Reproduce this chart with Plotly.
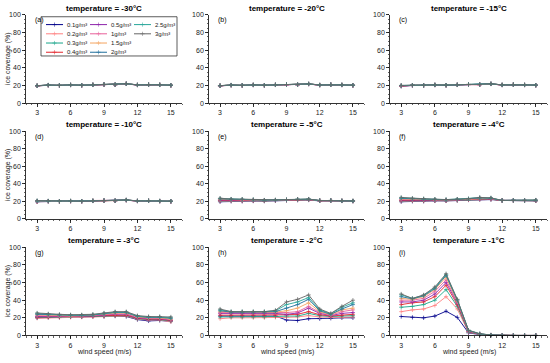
import plotly.graph_objects as go

# ---------------- data ----------------
wind_speed = [3, 4, 5, 6, 7, 8, 9, 10, 11, 12, 13, 14, 15]
concentrations = ["0.1", "0.2", "0.3", "0.4", "0.5", "1", "1.5", "2", "2.5", "3"]
series_colors = ["#00008B", "#FF7F7F", "#17A589", "#E3242B", "#8E24AA",
                 "#E8609A", "#F4A460", "#1F6E9C", "#26A69A", "#666666"]
temperatures = ["-30", "-20", "-15", "-10", "-5", "-4", "-3", "-2", "-1"]
panel_tags = ["(a)", "(b)", "(c)", "(d)", "(e)", "(f)", "(g)", "(h)", "(i)"]

# rows: one per concentration (0.1 ... 3 g/m3), columns: wind speed 3..15 m/s
cov_m30 = [
    [19.4, 20.2, 19.9, 20.4, 20.0, 20.5, 20.9, 20.7, 21.7, 20.4, 20.7, 20.5, 20.0],
    [19.5, 20.2, 19.9, 20.4, 20.0, 20.5, 20.9, 20.7, 21.7, 20.4, 20.7, 20.5, 20.0],
    [19.5, 20.3, 20.0, 20.5, 20.1, 20.6, 21.0, 20.8, 21.8, 20.5, 20.8, 20.6, 20.1],
    [19.5, 20.3, 20.0, 20.5, 20.1, 20.6, 21.0, 20.8, 21.8, 20.5, 20.8, 20.6, 20.1],
    [19.6, 20.3, 20.0, 20.5, 20.1, 20.6, 21.0, 20.8, 21.8, 20.5, 20.8, 20.6, 20.1],
    [19.6, 20.3, 20.0, 20.5, 20.1, 20.6, 21.0, 20.8, 21.8, 20.5, 20.8, 20.6, 20.1],
    [19.6, 20.4, 20.1, 20.6, 20.2, 20.7, 21.1, 20.9, 21.9, 20.6, 20.9, 20.7, 20.2],
    [19.6, 20.4, 20.1, 20.6, 20.2, 20.7, 21.1, 20.9, 21.9, 20.6, 20.9, 20.7, 20.2],
    [19.7, 20.4, 20.1, 20.6, 20.2, 20.7, 21.1, 20.9, 21.9, 20.6, 20.9, 20.7, 20.2],
    [19.7, 20.4, 20.1, 20.6, 20.2, 20.7, 21.1, 20.9, 21.9, 20.6, 20.9, 20.7, 20.2],
]
cov_m20 = [
    [19.5, 20.2, 19.9, 20.4, 20.0, 20.5, 20.8, 20.7, 21.5, 20.3, 20.7, 20.4, 20.0],
    [19.5, 20.2, 19.9, 20.4, 20.0, 20.5, 20.8, 20.7, 21.5, 20.3, 20.7, 20.4, 20.0],
    [19.6, 20.3, 20.0, 20.5, 20.1, 20.6, 20.9, 20.8, 21.6, 20.4, 20.8, 20.5, 20.1],
    [19.6, 20.3, 20.0, 20.5, 20.1, 20.6, 20.9, 20.8, 21.6, 20.4, 20.8, 20.5, 20.1],
    [19.6, 20.3, 20.0, 20.5, 20.1, 20.6, 20.9, 20.8, 21.6, 20.4, 20.8, 20.5, 20.1],
    [19.6, 20.3, 20.0, 20.5, 20.1, 20.6, 20.9, 20.8, 21.6, 20.4, 20.8, 20.5, 20.1],
    [19.7, 20.4, 20.1, 20.6, 20.2, 20.7, 21.0, 20.9, 21.7, 20.5, 20.9, 20.6, 20.2],
    [19.7, 20.4, 20.1, 20.6, 20.2, 20.7, 21.0, 20.9, 21.7, 20.5, 20.9, 20.6, 20.2],
    [19.7, 20.4, 20.1, 20.6, 20.2, 20.7, 21.0, 20.9, 21.7, 20.5, 20.9, 20.6, 20.2],
    [19.7, 20.4, 20.1, 20.6, 20.2, 20.7, 21.0, 20.9, 21.7, 20.5, 20.9, 20.6, 20.2],
]
cov_m15 = [
    [19.0, 20.0, 19.9, 20.4, 20.1, 20.5, 20.9, 20.8, 21.6, 20.4, 20.7, 20.4, 20.1],
    [19.2, 20.1, 20.0, 20.4, 20.1, 20.5, 20.9, 20.8, 21.6, 20.4, 20.7, 20.4, 20.1],
    [19.3, 20.1, 20.0, 20.5, 20.2, 20.6, 21.0, 20.9, 21.7, 20.5, 20.8, 20.5, 20.2],
    [19.4, 20.2, 20.1, 20.5, 20.2, 20.6, 21.0, 20.9, 21.7, 20.5, 20.8, 20.5, 20.2],
    [19.5, 20.2, 20.1, 20.5, 20.2, 20.6, 21.0, 20.9, 21.7, 20.5, 20.8, 20.5, 20.2],
    [19.6, 20.2, 20.1, 20.5, 20.2, 20.6, 21.0, 20.9, 21.7, 20.5, 20.8, 20.5, 20.2],
    [19.7, 20.3, 20.1, 20.6, 20.3, 20.7, 21.1, 21.0, 21.8, 20.6, 20.9, 20.6, 20.3],
    [19.8, 20.3, 20.1, 20.6, 20.3, 20.7, 21.1, 21.0, 21.8, 20.6, 20.9, 20.6, 20.3],
    [19.9, 20.3, 20.1, 20.6, 20.3, 20.7, 21.1, 21.0, 21.8, 20.6, 20.9, 20.6, 20.3],
    [20.0, 20.3, 20.1, 20.6, 20.3, 20.7, 21.1, 21.0, 21.8, 20.6, 20.9, 20.6, 20.3],
]
cov_m10 = [
    [19.5, 20.0, 19.9, 20.2, 20.0, 20.4, 20.7, 20.6, 21.3, 20.3, 20.5, 20.2, 19.9],
    [19.6, 20.1, 19.9, 20.2, 20.0, 20.4, 20.7, 20.6, 21.3, 20.3, 20.5, 20.2, 19.9],
    [19.7, 20.1, 20.0, 20.3, 20.1, 20.5, 20.8, 20.7, 21.4, 20.4, 20.6, 20.3, 20.0],
    [19.8, 20.2, 20.0, 20.3, 20.1, 20.5, 20.8, 20.7, 21.4, 20.4, 20.6, 20.3, 20.0],
    [19.9, 20.2, 20.0, 20.3, 20.1, 20.5, 20.8, 20.7, 21.5, 20.4, 20.6, 20.3, 20.0],
    [20.0, 20.2, 20.0, 20.3, 20.1, 20.5, 20.8, 20.7, 21.5, 20.4, 20.6, 20.3, 20.0],
    [20.2, 20.3, 20.1, 20.4, 20.2, 20.6, 20.9, 20.8, 21.5, 20.5, 20.7, 20.4, 20.1],
    [20.4, 20.3, 20.1, 20.4, 20.2, 20.6, 20.9, 20.8, 21.5, 20.5, 20.7, 20.4, 20.1],
    [20.6, 20.4, 20.1, 20.4, 20.2, 20.6, 20.9, 20.8, 21.6, 20.5, 20.7, 20.4, 20.1],
    [20.8, 20.4, 20.1, 20.4, 20.2, 20.6, 20.9, 20.8, 21.6, 20.5, 20.7, 20.4, 20.1],
]
cov_m5 = [
    [19.5, 20.0, 20.0, 20.3, 20.2, 20.8, 21.0, 21.3, 21.5, 20.5, 20.8, 20.4, 20.2],
    [20.0, 20.4, 20.3, 20.5, 20.4, 21.0, 21.2, 21.5, 21.7, 20.6, 20.8, 20.4, 20.2],
    [20.5, 20.8, 20.7, 20.8, 20.6, 21.1, 21.3, 21.7, 21.9, 20.6, 20.8, 20.5, 20.3],
    [21.0, 21.2, 21.0, 21.0, 20.8, 21.2, 21.4, 21.8, 22.0, 20.7, 20.9, 20.5, 20.3],
    [21.5, 21.5, 21.3, 21.2, 21.0, 21.3, 21.5, 22.0, 22.1, 20.7, 20.9, 20.5, 20.3],
    [22.0, 21.8, 21.6, 21.4, 21.1, 21.4, 21.6, 22.1, 22.2, 20.8, 20.9, 20.5, 20.4],
    [22.4, 22.0, 21.9, 21.6, 21.2, 21.5, 21.7, 22.2, 22.3, 20.8, 21.0, 20.6, 20.4],
    [22.8, 22.2, 22.1, 21.8, 21.3, 21.5, 21.8, 22.3, 22.4, 20.9, 21.0, 20.6, 20.4],
    [23.2, 22.4, 22.3, 21.9, 21.4, 21.6, 21.9, 22.4, 22.5, 20.9, 21.0, 20.6, 20.5],
    [23.6, 22.6, 22.5, 22.0, 21.5, 21.6, 22.0, 22.5, 22.6, 21.0, 21.0, 20.6, 20.5],
]
cov_m4 = [
    [19.5, 20.0, 20.0, 20.5, 20.5, 21.0, 21.5, 22.0, 22.0, 21.0, 21.0, 21.0, 20.5],
    [20.0, 20.4, 20.3, 20.7, 20.6, 21.1, 21.7, 22.2, 22.2, 21.0, 21.0, 21.0, 20.6],
    [20.5, 20.8, 20.6, 20.9, 20.8, 21.2, 21.8, 22.4, 22.4, 21.0, 21.0, 21.0, 20.7],
    [21.0, 21.2, 21.0, 21.1, 21.0, 21.4, 22.0, 22.7, 22.6, 21.0, 21.1, 21.0, 20.8],
    [21.6, 21.6, 21.4, 21.3, 21.2, 21.6, 22.1, 23.0, 22.8, 21.0, 21.1, 21.0, 20.9],
    [22.2, 22.0, 21.8, 21.6, 21.4, 21.8, 22.3, 23.3, 23.0, 21.0, 21.1, 21.0, 21.0],
    [22.8, 22.4, 22.1, 21.8, 21.6, 22.0, 22.5, 23.6, 23.3, 21.0, 21.1, 21.0, 21.1],
    [23.4, 22.8, 22.5, 22.1, 21.8, 22.2, 22.7, 23.9, 23.5, 21.0, 21.2, 21.0, 21.2],
    [24.0, 23.2, 22.8, 22.3, 21.9, 22.4, 22.9, 24.2, 23.8, 21.0, 21.2, 21.0, 21.4],
    [24.5, 23.5, 23.0, 22.5, 22.0, 22.5, 23.0, 24.5, 24.0, 21.0, 21.2, 21.0, 21.5],
]
cov_m3 = [
    [20.0, 20.5, 20.5, 21.0, 21.0, 21.5, 21.5, 22.0, 21.5, 18.0, 16.5, 17.0, 16.0],
    [19.5, 20.0, 20.2, 20.6, 20.8, 21.0, 21.5, 22.0, 22.0, 18.5, 17.5, 17.5, 15.5],
    [20.5, 20.8, 21.0, 21.2, 21.3, 21.7, 22.0, 22.5, 22.5, 19.0, 18.0, 18.0, 16.5],
    [21.0, 21.2, 21.4, 21.5, 21.6, 22.0, 22.5, 23.0, 23.0, 19.5, 18.5, 18.5, 17.0],
    [21.5, 21.5, 21.6, 21.8, 21.9, 22.3, 23.0, 24.0, 24.0, 20.0, 19.0, 19.0, 17.5],
    [22.5, 22.2, 22.0, 22.0, 22.2, 22.6, 23.5, 24.5, 24.5, 20.5, 19.5, 19.5, 18.0],
    [23.5, 23.0, 22.5, 22.3, 22.5, 23.0, 24.0, 25.5, 25.5, 21.0, 20.0, 20.0, 18.5],
    [24.0, 23.5, 23.0, 22.6, 22.8, 23.3, 24.5, 26.0, 26.0, 21.5, 20.5, 20.5, 19.5],
    [25.0, 24.0, 23.5, 23.0, 23.0, 23.6, 25.0, 26.5, 26.5, 22.0, 21.0, 21.0, 20.0],
    [25.5, 24.5, 24.0, 23.5, 23.5, 24.0, 25.5, 27.0, 27.0, 22.5, 21.5, 21.5, 21.0],
]
cov_m2 = [
    [22.0, 22.0, 22.0, 22.0, 22.0, 22.0, 17.5, 17.0, 19.0, 19.0, 19.5, 20.0, 20.0],
    [19.0, 20.0, 20.0, 20.0, 20.0, 20.5, 20.5, 21.0, 22.5, 21.0, 20.5, 20.5, 21.0],
    [21.0, 21.0, 21.0, 21.0, 21.0, 21.5, 22.0, 22.0, 25.0, 22.5, 21.5, 22.0, 22.5],
    [23.0, 23.0, 23.0, 23.0, 23.0, 23.0, 23.5, 24.0, 27.0, 23.5, 22.0, 23.0, 24.0],
    [25.0, 25.0, 25.0, 25.0, 25.0, 25.0, 24.0, 25.5, 31.0, 25.0, 22.5, 25.0, 26.0],
    [26.0, 26.0, 26.0, 26.0, 26.0, 26.0, 26.0, 27.0, 33.0, 26.0, 23.0, 27.0, 29.0],
    [27.0, 26.5, 26.5, 26.5, 26.5, 26.5, 28.0, 31.0, 37.0, 27.0, 23.5, 29.0, 31.0],
    [28.0, 26.5, 26.5, 26.5, 26.5, 27.0, 31.0, 35.0, 41.0, 28.0, 24.0, 30.0, 35.0],
    [29.0, 27.0, 27.0, 27.0, 27.0, 28.0, 35.0, 38.0, 43.0, 29.0, 24.5, 32.0, 37.0],
    [30.0, 27.0, 27.0, 27.0, 27.0, 28.5, 38.0, 41.0, 46.0, 30.0, 25.0, 33.0, 40.0],
]
cov_m1 = [
    [21.5, 20.5, 20.0, 22.0, 27.5, 20.5, 3.0, 1.0, 0.3, 0.0, 0.0, 0.0, 0.0],
    [27.0, 29.0, 30.0, 34.0, 44.0, 30.0, 3.5, 1.2, 0.4, 0.0, 0.0, 0.0, 0.0],
    [32.0, 33.0, 35.0, 40.0, 52.0, 33.0, 4.0, 1.3, 0.4, 0.0, 0.0, 0.0, 0.0],
    [35.0, 37.0, 38.0, 44.0, 57.0, 35.0, 4.5, 1.5, 0.5, 0.0, 0.0, 0.0, 0.0],
    [38.0, 38.0, 40.0, 47.0, 60.0, 37.0, 5.0, 1.5, 0.5, 0.0, 0.0, 0.0, 0.0],
    [40.0, 40.0, 42.0, 50.0, 63.0, 38.0, 5.0, 1.6, 0.5, 0.0, 0.0, 0.0, 0.0],
    [42.0, 41.0, 44.0, 52.0, 66.0, 39.0, 5.5, 1.7, 0.5, 0.0, 0.0, 0.0, 0.0],
    [44.0, 41.5, 45.0, 53.0, 68.0, 40.0, 5.5, 1.8, 0.5, 0.0, 0.0, 0.0, 0.0],
    [46.0, 42.0, 45.5, 54.0, 69.0, 40.5, 6.0, 1.9, 0.5, 0.0, 0.0, 0.0, 0.0],
    [47.0, 42.0, 46.0, 55.0, 70.0, 41.0, 6.0, 2.0, 0.5, 0.0, 0.0, 0.0, 0.0],
]
coverage_by_panel = [cov_m30, cov_m20, cov_m15, cov_m10, cov_m5,
                     cov_m4, cov_m3, cov_m2, cov_m1]

# ---------------- layout geometry (pixels of the 550x363 page) ----------------
W, H = 550, 363
col_px = [(26, 182), (209, 364), (390, 547)]
row_px = [(11, 101), (130, 219), (248, 338)]
FONT = "Liberation Sans, Arial, sans-serif"


def px_x(a, b):
    return [a / W, b / W]


def px_y(top, bottom):
    return [1 - bottom / H, 1 - top / H]


fig = go.Figure()
layout = dict(
    width=W, height=H,
    margin=dict(l=0, r=0, t=0, b=0),
    paper_bgcolor="white", plot_bgcolor="white",
    font=dict(family=FONT, size=7, color="#222222"),
    showlegend=False,
)
annotations = []
shapes = []

for k in range(9):
    r, c = divmod(k, 3)
    xname = "xaxis" if k == 0 else f"xaxis{k + 1}"
    yname = "yaxis" if k == 0 else f"yaxis{k + 1}"
    xref = "x" if k == 0 else f"x{k + 1}"
    yref = "y" if k == 0 else f"y{k + 1}"
    layout[xname] = dict(
        domain=px_x(*col_px[c]), anchor=yref, range=[2, 16],
        tickvals=[3, 6, 9, 12, 15], ticks="outside", ticklen=3, tickwidth=0.8,
        tickcolor="black", showline=True, linecolor="black", linewidth=0.8,
        showgrid=False, zeroline=False, tickfont=dict(size=7),
        minor=dict(dtick=0.5, tick0=2, ticks="outside", ticklen=1.6,
                   tickwidth=0.6, tickcolor="black", showgrid=False),
        fixedrange=True,
    )
    layout[yname] = dict(
        domain=px_y(*row_px[r]), anchor=xref, range=[0, 100],
        tickvals=[0, 20, 40, 60, 80, 100], ticks="outside", ticklen=3,
        tickwidth=0.8, tickcolor="black", showline=True, linecolor="black",
        linewidth=0.8, showgrid=False, zeroline=False, tickfont=dict(size=7),
        minor=dict(dtick=5, tick0=0, ticks="outside", ticklen=1.6,
                   tickwidth=0.6, tickcolor="black", showgrid=False),
        fixedrange=True,
    )
    panel = coverage_by_panel[k]
    for i, conc in enumerate(concentrations):
        fig.add_trace(go.Scatter(
            x=wind_speed, y=panel[i], mode="lines+markers",
            name=f"{conc}g/m³",
            line=dict(color=series_colors[i], width=0.9),
            marker=dict(symbol="cross-thin", size=3,
                        line=dict(color=series_colors[i], width=0.7)),
            xaxis=xref, yaxis=yref, cliponaxis=False,
        ))
    # panel title
    annotations.append(dict(
        text=f"<b>temperature = {temperatures[k]}°C</b>",
        xref=f"{xref} domain", yref=f"{yref} domain", x=0.5, y=1.0,
        xanchor="center", yanchor="bottom", yshift=0, showarrow=False,
        font=dict(size=8, color="black"),
    ))
    # panel tag
    annotations.append(dict(
        text=panel_tags[k], xref=f"{xref} domain", yref=f"{yref} domain",
        x=0.045, y=0.94, xanchor="left", yanchor="middle", showarrow=False,
        font=dict(size=7, color="black"),
    ))
    if c == 0:
        top, bottom = row_px[r]
        annotations.append(dict(
            text="ice coverage (%)", xref="paper", yref="paper",
            x=8 / W, y=1 - (top + bottom) / 2 / H, textangle=-90,
            xanchor="center", yanchor="middle", showarrow=False,
            font=dict(size=7, color="#222222"),
        ))
    if r == 2:
        a, b = col_px[c]
        annotations.append(dict(
            text="wind speed (m/s)", xref="paper", yref="paper",
            x=(a + b) / 2 / W, y=1 - 355 / H, xanchor="center",
            yanchor="middle", showarrow=False,
            font=dict(size=7, color="#222222"),
        ))

# ---------------- legend (inside panel a, 3 columns) ----------------
box_x, box_y = (41, 177), (13, 53)
layout["xaxis10"] = dict(domain=px_x(*box_x), anchor="y10",
                         range=[0, box_x[1] - box_x[0]], visible=False,
                         fixedrange=True)
layout["yaxis10"] = dict(domain=px_y(*box_y), anchor="x10",
                         range=[box_y[1] - box_y[0], 0], visible=False,
                         fixedrange=True)
col_pitch, row_pitch = 44, 9.4
for i, conc in enumerate(concentrations):
    col, row = divmod(i, 4)
    x0 = 5 + col * col_pitch
    yy = 8 + row * row_pitch
    fig.add_trace(go.Scatter(
        x=[x0, x0 + 8.5, x0 + 17], y=[yy, yy, yy], mode="lines+markers",
        line=dict(color=series_colors[i], width=1),
        marker=dict(symbol="cross-thin", size=[0, 3, 0],
                    line=dict(color=series_colors[i], width=0.7)),
        xaxis="x10", yaxis="y10", hoverinfo="skip", showlegend=False,
    ))
    annotations.append(dict(
        text=f"{conc}g/m³", xref="x10", yref="y10",
        x=x0 + 19, y=yy, xanchor="left", yanchor="middle", showarrow=False,
        font=dict(size=6, color="#222222"),
    ))
shapes.append(dict(type="rect", xref="x10 domain", yref="y10 domain",
                   x0=0, x1=1, y0=0, y1=1,
                   line=dict(color="#333333", width=0.8)))

layout["annotations"] = annotations
layout["shapes"] = shapes
fig.update_layout(**layout)
fig.write_html("out.html", config={"displayModeBar": False, "staticPlot": True},
               post_script="document.body.style.margin='0';")
